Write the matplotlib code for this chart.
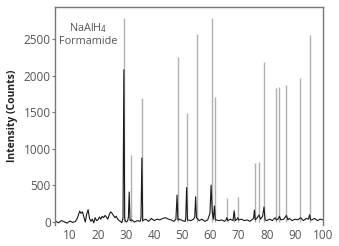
import matplotlib
matplotlib.use("Agg")
import matplotlib.pyplot as plt

plt.rcParams['font.family'] = ['Open Sans', 'DejaVu Sans']

# reference pattern (gray sticks): 2-theta and intensity
ref_pos = [29.2, 31.6, 35.6, 48.4, 51.5, 55.3, 60.5, 61.5, 65.8, 68.4, 69.7,
           75.9, 77.4, 79.0, 83.2, 84.4, 86.9, 91.9, 95.2]
ref_int = [2790, 915, 1694, 2254, 1489, 2568, 2787, 1708, 328, 140, 342,
           806, 820, 2186, 1830, 1844, 1872, 1967, 2555]

# measured pattern (black trace)
meas_x = [5, 6, 7, 8, 9, 10, 11, 12, 12.5, 13, 13.5, 14, 14.5, 15, 15.5, 16,
          16.5, 17, 17.5, 18, 18.5, 19, 19.5, 20, 20.5, 21, 21.5, 22, 22.5,
          23, 23.5, 24, 24.5, 25, 25.5, 26, 26.5, 27, 27.5, 28, 28.5, 28.9,
          29.2, 29.5, 30.0, 30.5, 30.8, 31.1, 31.4, 32, 33, 34, 35, 35.3,
          35.6, 35.9, 37, 38, 39, 40, 41, 42, 43, 44, 45, 46, 47, 47.7, 48.1,
          48.4, 49, 50, 51, 51.2, 51.5, 51.8, 53, 54, 54.4, 54.7, 55.0, 56,
          57, 58, 59, 59.8, 60.2, 60.6, 61.0, 61.4, 61.7, 62, 63, 64, 65,
          65.5, 65.8, 66.1, 67, 68, 68.4, 68.8, 69.4, 69.7, 70.0, 71, 72,
          73, 74, 75, 75.3, 75.6, 75.9, 76.6, 77.2, 77.8, 78.5, 79.0, 79.4,
          80, 81, 82, 83, 83.4, 84, 84.5, 85, 86, 87, 87.5, 88, 89, 90, 91,
          92, 93, 94, 94.8, 95.2, 95.6, 96, 97, 98, 99, 100]
meas_y = [10, -10, 20, 5, -15, 15, -5, 10, 40, 90, 150, 120, 140, 70, 0,
          110, 170, 50, 10, 40, -10, 60, 20, 30, 70, 40, 80, 60, 90, 70, 40,
          100, 140, 120, 90, 60, 80, 40, 20, 10, -10, 60, 2080, 40, 0, 15,
          60, 410, 20, 30, 0, 20, 10, 60, 874, 20, 40, 10, 50, 20, 40, 30,
          50, 60, 40, 30, 10, 40, 370, 30, 40, 20, 10, 60, 470, 30, 20, 40,
          70, 346, 60, 20, 40, 10, 30, 120, 505, 150, 40, 219, 30, 30, 20,
          30, 10, 30, 60, 20, 40, 20, 154, 20, 40, 60, 30, 40, 20, 30, 10,
          40, 50, 164, 30, 60, 96, 40, 80, 205, 30, 20, 40, 20, 60, 30, 40,
          80, 30, 40, 90, 30, 50, 20, 40, 30, 60, 20, 50, 40, 100, 30, 30,
          50, 20, 40, 30]

xticks = [10, 20, 30, 40, 50, 60, 70, 80, 90, 100]
yticks = [0, 500, 1000, 1500, 2000, 2500]

fig = plt.figure(figsize=(3.39, 2.46), dpi=100)
ax = fig.add_axes([0.162, 0.085, 0.791, 0.887])

ax.vlines(ref_pos, 0, ref_int, color='#b0b0b0', linewidth=1.0, zorder=1)
ax.plot(meas_x, meas_y, color='#1a1a1a', linewidth=0.8, zorder=2)

ax.set_xlim(4.7, 100)
ax.set_ylim(-41, 2937)
ax.set_xticks(xticks)
ax.set_yticks(yticks)

for s in ['left', 'top', 'right']:
    ax.spines[s].set_color('#777777')
    ax.spines[s].set_linewidth(1.0)
ax.spines['bottom'].set_visible(False)

ax.tick_params(axis='x', length=0, pad=3, labelsize=8.5, labelcolor='#555555')
ax.tick_params(axis='y', length=2, width=0.8, color='#777777', pad=1,
               labelsize=8.5, labelcolor='#555555')

ax.set_ylabel('Intensity (Counts)', fontsize=7.5, fontweight='bold',
              color='#222222', labelpad=4)

ax.text(0.123, 0.875, 'NaAlH$_4$\nFormamide', transform=ax.transAxes,
        ha='center', va='center', fontsize=7.8, color='#555555',
        linespacing=1.1)

fig.savefig('out.png', dpi=100)
